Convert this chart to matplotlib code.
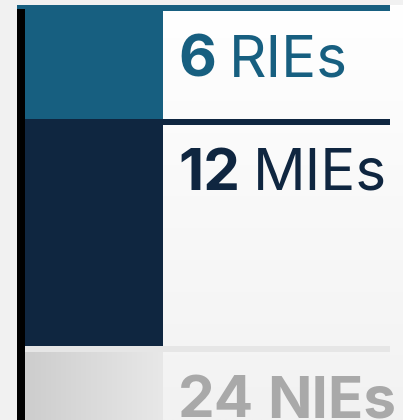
import numpy as np
import matplotlib
matplotlib.use('Agg')
import matplotlib.pyplot as plt
from matplotlib.colors import LinearSegmentedColormap

# data
counts = [6, 12, 24]
labels = ['RIEs', 'MIEs', 'NIEs']

# style
bar_colors = ['#175f80', '#0f2640', None]
line_colors = ['#175f80', '#0f2640', '#e6e6e6']
text_colors = ['#175f80', '#0f2640', '#a9a9a9']
FONT = ['Inter', 'DejaVu Sans']

PX = 18.95           # pixels per unit
TOP_PX = 5.3
W, H = 403, 420

fig = plt.figure(figsize=(W / 100, H / 100), dpi=100, facecolor='#f1f1f1')
ax = fig.add_axes([0, 0, 1, 1])
ax.set_xlim(0, W)
ax.set_ylim((H - TOP_PX) / PX, -TOP_PX / PX)
ax.axis('off')

# card background gradient
grad = np.linspace(0, 1, 256).reshape(-1, 1)
bg = LinearSegmentedColormap.from_list('bg', ['#ffffff', '#f2f2f2'])
ax.imshow(grad, cmap=bg, extent=(25, W, (H - TOP_PX) / PX, 0), aspect='auto', zorder=0)

bar_x0, bar_x1 = 25, 163
line_h = 5.5 / PX
bottoms = np.concatenate([[0], np.cumsum(counts)[:-1]])

for k, (n, lab) in enumerate(zip(counts, labels)):
    b = bottoms[k]
    if bar_colors[k] is not None:
        ax.bar(bar_x0, n, bottom=b, width=bar_x1 - bar_x0, align='edge',
               color=bar_colors[k], zorder=2)
    else:
        p = ax.bar(bar_x0, n, bottom=b, width=bar_x1 - bar_x0, align='edge',
                   color='#dddddd', zorder=2)[0]
        g = np.linspace(0, 1, 256).reshape(1, -1)
        cm = LinearSegmentedColormap.from_list('g', ['#cdcdcd', '#e8e8e8'])
        im = ax.imshow(g, cmap=cm, extent=(bar_x0, bar_x1, b + n, b),
                       aspect='auto', zorder=2.5)
        im.set_clip_path(p)
    # separator line at segment top
    x_start = 17 if k == 0 else bar_x0
    ax.bar(x_start, line_h, bottom=b, width=390 - x_start, align='edge',
           color=line_colors[k], zorder=3 if k == 2 else 1.5)

    y_text = b + 71 / PX
    t = ax.text(178, y_text, str(n), fontsize=42, fontweight='bold',
                color=text_colors[k], family=FONT, va='baseline', zorder=4)
    ax.annotate(lab, xy=(1, 0), xycoords=t, xytext=(9, 0),
                textcoords='offset points', fontsize=42, color=text_colors[k],
                family=FONT, va='bottom', ha='left', zorder=4,
                fontweight='bold' if k == 2 else 'normal')

# black axis line
ax.vlines(21, 3.7 / PX, (H - TOP_PX) / PX, color='black', lw=8 * 0.72, zorder=5)

fig.savefig('out.png', dpi=100, facecolor=fig.get_facecolor())
